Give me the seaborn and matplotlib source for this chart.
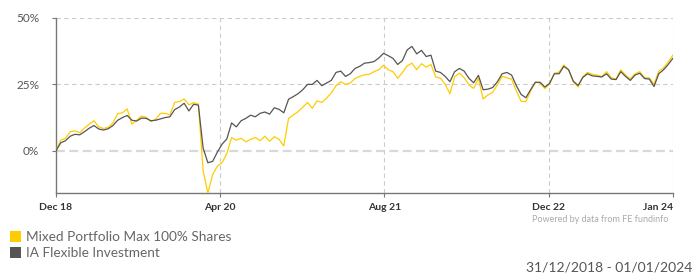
import numpy as np
import pandas as pd
import matplotlib
matplotlib.use("Agg")
import matplotlib.pyplot as plt
import seaborn as sns
from matplotlib.patches import Patch

# Chart data (cumulative % performance, read roughly every two weeks)
start_date = "2018-12-31"
end_date = "2024-01-01"

fund_name = "Mixed Portfolio Max 100% Shares"
sector_name = "IA Flexible Investment"

fund_values = [
    0.0, 4.0, 4.7, 7.2, 7.5, 6.8, 8.6, 10.0, 11.3, 9.0,
    8.4, 8.8, 10.5, 14.0, 14.3, 15.8, 10.0, 11.5, 13.1, 12.6,
    11.0, 11.9, 14.1, 14.1, 13.5, 18.2, 18.5, 19.5, 17.3, 18.1,
    17.6, -7.5, -15.9, -9.0, -5.8, -4.5, -1.0, 5.0, 4.0, 4.7,
    3.4, 4.3, 5.0, 3.8, 5.5, 3.6, 5.3, 4.3, 1.8, 12.2,
    13.5, 14.7, 16.4, 18.2, 16.0, 18.8, 18.2, 19.8, 21.8, 24.5,
    26.0, 25.0, 25.5, 27.2, 28.0, 28.6, 28.8, 29.8, 30.5, 32.2,
    30.5, 29.8, 27.3, 29.5, 32.0, 33.0, 30.5, 32.8, 31.5, 32.5,
    27.8, 27.3, 25.0, 21.5, 27.9, 29.2, 27.5, 24.8, 23.5, 27.3,
    19.5, 21.0, 22.0, 24.8, 28.0, 27.5, 27.0, 22.5, 18.6, 18.5,
    22.5, 25.8, 25.5, 23.4, 25.2, 29.2, 29.6, 32.3, 30.5, 26.0,
    24.0, 28.0, 29.5, 28.8, 28.5, 28.0, 29.8, 27.5, 27.0, 30.5,
    28.5, 27.0, 29.0, 29.8, 27.5, 27.5, 25.0, 30.0, 31.2, 33.5,
    36.1,
]

sector_values = [
    0.0, 3.0, 3.8, 5.5, 6.2, 6.0, 7.2, 8.5, 9.5, 8.2,
    7.8, 8.3, 9.5, 11.5, 12.5, 13.3, 11.5, 11.2, 12.3, 12.2,
    11.3, 11.5, 12.0, 12.5, 12.8, 15.5, 16.5, 17.9, 15.0, 17.5,
    17.2, 1.0, -4.5, -4.0, -0.5, 2.5, 4.5, 10.5, 9.0, 11.3,
    12.2, 13.4, 12.8, 14.1, 14.6, 13.8, 16.2, 15.6, 14.3, 19.4,
    20.4, 21.5, 23.0, 25.0, 25.0, 26.5, 24.5, 25.5, 26.5, 29.5,
    30.0, 28.0, 29.0, 31.0, 31.8, 33.0, 33.2, 33.6, 34.9, 36.7,
    35.8, 34.8, 32.5, 34.0, 38.0, 39.3, 36.5, 37.8, 35.5, 36.0,
    30.0, 29.5, 28.0, 26.0, 29.8, 31.0, 30.0, 27.3, 25.6, 28.4,
    23.0, 23.2, 23.8, 26.0, 29.0, 29.5, 28.5, 24.5, 21.2, 20.0,
    23.0, 25.8, 25.8, 24.0, 25.4, 29.0, 29.0, 31.8, 30.5, 26.2,
    24.6, 27.6, 29.0, 28.2, 28.0, 27.8, 29.0, 27.0, 26.8, 29.8,
    28.0, 26.5, 28.5, 29.2, 27.2, 27.0, 24.2, 29.0, 30.5, 32.5,
    34.9,
]

tick_dates = ["2018-12-31", "2020-04-30", "2021-08-29", "2022-12-29", "2024-01-01"]
tick_labels = ["Dec 18", "Apr 20", "Aug 21", "Dec 22", "Jan 24"]
y_ticks = [0, 25, 50]

dates = pd.date_range(start_date, end_date, periods=len(fund_values))
df = pd.DataFrame({
    "date": np.concatenate([dates, dates]),
    "value": fund_values + sector_values,
    "series": [fund_name] * len(dates) + [sector_name] * len(dates),
})

sns.set_theme(style="white")
plt.rcParams["font.family"] = ["Lato", "DejaVu Sans"]

yellow = "#FFCC00"
grey = "#555555"

fig = plt.figure(figsize=(6.95, 2.75), dpi=100)
ax = fig.add_axes([56 / 695, 1 - 193 / 275, 617 / 695, 175 / 275])

sns.lineplot(data=df, x="date", y="value", hue="series",
             palette={fund_name: yellow, sector_name: grey},
             hue_order=[fund_name, sector_name],
             linewidth=0.9, legend=False, ax=ax, zorder=3)

ax.set_xlim(pd.Timestamp(start_date), pd.Timestamp(end_date))
ax.set_ylim(-15.9, 50)

# dashed grid
for yv in [25, 50]:
    ax.axhline(yv, color="#cccccc", lw=0.8, ls=(0, (4, 3)), zorder=1)
ax.axhline(0, color="#d9d9d9", lw=1.6, ls=(0, (4, 2)), zorder=1)
for d in tick_dates[1:]:
    ax.axvline(pd.Timestamp(d), color="#cccccc", lw=0.8, ls=(0, (4, 3)), zorder=1)

ax.set_xticks([pd.Timestamp(d) for d in tick_dates])
ax.set_xticklabels(tick_labels, fontweight="bold", fontsize=7.5, color="#333333")
ax.get_xticklabels()[-1].set_horizontalalignment("right")
ax.set_yticks(y_ticks)
ax.set_yticklabels([f"{v}%" for v in y_ticks], fontsize=8.5, color="#555555")
ax.tick_params(axis="x", length=3, width=0.8, color="#777777", pad=4, bottom=True)
ax.tick_params(axis="y", length=3, width=0.8, color="#777777", pad=9, left=True)
ax.set_xlabel("")
ax.set_ylabel("")

for side in ["top", "right"]:
    ax.spines[side].set_visible(False)
for side in ["left", "bottom"]:
    ax.spines[side].set_color("#777777")
    ax.spines[side].set_linewidth(1.0)

fig.text(668 / 695, 1 - 219 / 275, "Powered by data from FE fundinfo",
         ha="right", va="center", fontsize=6.5, color="#aaaaaa")

handles = [Patch(facecolor=yellow, edgecolor="none"), Patch(facecolor=grey, edgecolor="none")]
fig.legend(handles, [fund_name, sector_name], loc="upper left",
           bbox_to_anchor=(6 / 695, 1 - 227 / 275), frameon=False,
           fontsize=9.8, handlelength=0.8, handleheight=0.8, handletextpad=0.4,
           labelspacing=0.3, labelcolor="#666666", borderaxespad=0, borderpad=0.3)

fig.text(692 / 695, 1 - 268 / 275, "31/12/2018 - 01/01/2024",
         ha="right", va="center", fontsize=10, color="#555555")

fig.savefig("out.png", dpi=100)
